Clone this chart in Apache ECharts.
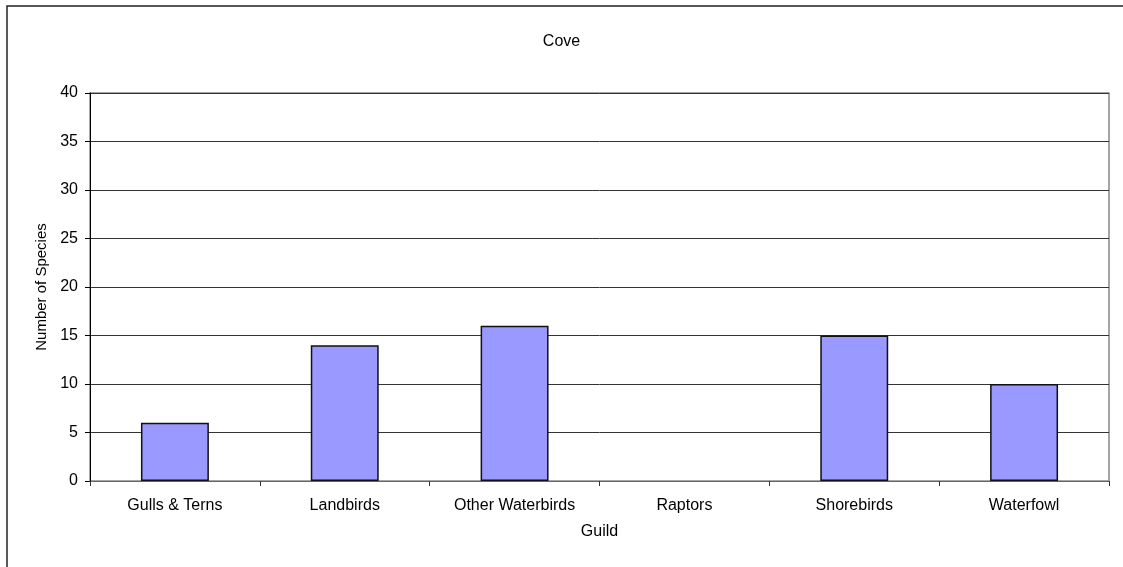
<!DOCTYPE html>
<html>
<head>
<meta charset="utf-8">
<script src="https://cdn.jsdelivr.net/npm/echarts@6/dist/echarts.min.js"></script>
<style>
  html, body { margin: 0; padding: 0; background: #fff; }
  #chart { width: 1123px; height: 567px; }
</style>
</head>
<body>
<div id="chart"></div>
<script>
// data
const guilds = ['Gulls & Terns', 'Landbirds', 'Other Waterbirds', 'Raptors', 'Shorebirds', 'Waterfowl']
const speciesCount = [6, 14, 16, 0, 15, 10]
const yMin = 0
const yMax = 40
const yStep = 5

const font = 'Liberation Sans, Arial, sans-serif'

// empty bars get no outline, like the original
const barData = speciesCount.map(v => v === 0 ? { value: v, itemStyle: { borderWidth: 0 } } : v)

const chart = echarts.init(document.getElementById('chart'))

chart.setOption({
  animation: false,
  backgroundColor: '#fff',
  title: {
    text: 'Cove',
    left: 'center',
    top: 29,
    textStyle: { fontFamily: font, fontSize: 16, fontWeight: 'normal', color: '#000' }
  },
  // outer chart frame
  graphic: [{
    type: 'rect',
    shape: { x: 7, y: 6, width: 1140, height: 600 },
    style: { fill: 'none', stroke: '#222', lineWidth: 1.5 },
    silent: true
  }],
  grid: {
    left: 90,
    right: 14,
    top: 93,
    bottom: 86,
    show: true,
    borderColor: '#888',
    borderWidth: 1.5
  },
  xAxis: {
    type: 'category',
    data: guilds,
    z: 3,
    name: 'Guild',
    nameLocation: 'middle',
    nameGap: 43,
    nameTextStyle: { fontFamily: font, fontSize: 16, color: '#000' },
    axisLine: { lineStyle: { color: '#666', width: 1 } },
    axisTick: { show: true, length: 5, lineStyle: { color: '#333' } },
    axisLabel: { fontFamily: font, fontSize: 16, color: '#000', margin: 17 },
    splitLine: { show: false }
  },
  yAxis: {
    type: 'value',
    min: yMin,
    max: yMax,
    interval: yStep,
    name: 'Number of Species',
    nameLocation: 'middle',
    nameGap: 37,
    nameTextStyle: { fontFamily: font, fontSize: 15, color: '#000' },
    axisLine: { show: true, lineStyle: { color: '#000', width: 1 } },
    axisTick: { show: true, length: 5, lineStyle: { color: '#000' } },
    axisLabel: { fontFamily: font, fontSize: 16, color: '#000', margin: 12 },
    splitLine: { show: true, lineStyle: { color: '#333', width: 1 } }
  },
  series: [{
    type: 'bar',
    data: barData,
    barWidth: '40%',
    itemStyle: { color: '#9999FF', borderColor: '#111', borderWidth: 1.5 }
  }]
})
</script>
</body>
</html>
